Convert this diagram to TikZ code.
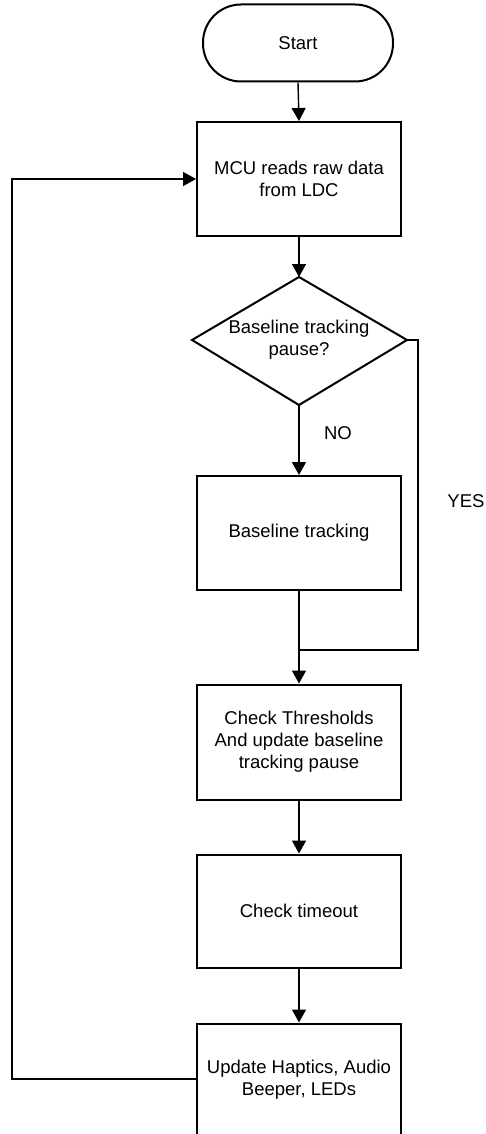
\documentclass[tikz,border=0pt]{standalone}
\usepackage{fontspec}
\setmainfont{Liberation Sans}
\usetikzlibrary{shapes.geometric,arrows.meta,positioning}
\begin{document}
\begin{tikzpicture}[x=1pt,y=-1pt,
  font=\fontsize{18.5}{22}\selectfont,
  procbox/.style={draw, line width=2pt, minimum width=204pt, minimum height=114pt, align=center, inner sep=0pt},
  term/.style={draw, line width=2pt, minimum width=190pt, minimum height=77pt, rounded corners=38pt, inner sep=0pt},
  conn/.style={line width=1.4pt},
  arr/.style={conn, -{Triangle[length=13pt,width=14pt]}}]
\useasboundingbox (0,0) rectangle (486,1134);
\node[term] (start) at (298,43) {Start};
\node[procbox] (mcu) at (299,179) {MCU reads raw data\\from LDC};
\draw[line width=2pt] (192,340) coordinate (dl) -- (299,277) coordinate (dt) -- (407,340) coordinate (dr) -- (299,405) coordinate (db) -- cycle;
\node[align=center] (dec) at (299,340) {Baseline tracking\\pause?};
\node[procbox] (bt) at (299,533) {Baseline tracking};
\node[procbox, minimum height=115pt] (ct) at (299,742) {Check Thresholds\\And update baseline\\tracking pause};
\node[procbox, minimum height=113pt] (to) at (299,911) {Check timeout};
\node[procbox, minimum height=113pt] (up) at (299,1080) {Update Haptics, Audio\\Beeper, LEDs};
\node (no) at (338,433) {NO};
\node (yes) at (466,501) {YES};
\coordinate (yr) at (418,340);
\coordinate (yb) at (418,650);
\coordinate (jn) at (299,650);
\coordinate (ll) at (12,1079);
\coordinate (lu) at (12,179);
\draw[arr] (start.south) -- (mcu.north);
\draw[arr] (mcu.south) -- (dt);
\draw[arr] (db) -- (bt.north);
\draw[arr] (bt.south) -- (ct.north);
\draw[conn] (dr) -- (yr) -- (yb) -- (jn);
\draw[arr] (ct.south) -- (to.north);
\draw[arr] (to.south) -- (up.north);
\draw[arr] (up.west |- ll) -- (ll) -- (lu) -- (mcu.west);
\end{tikzpicture}
\end{document}
